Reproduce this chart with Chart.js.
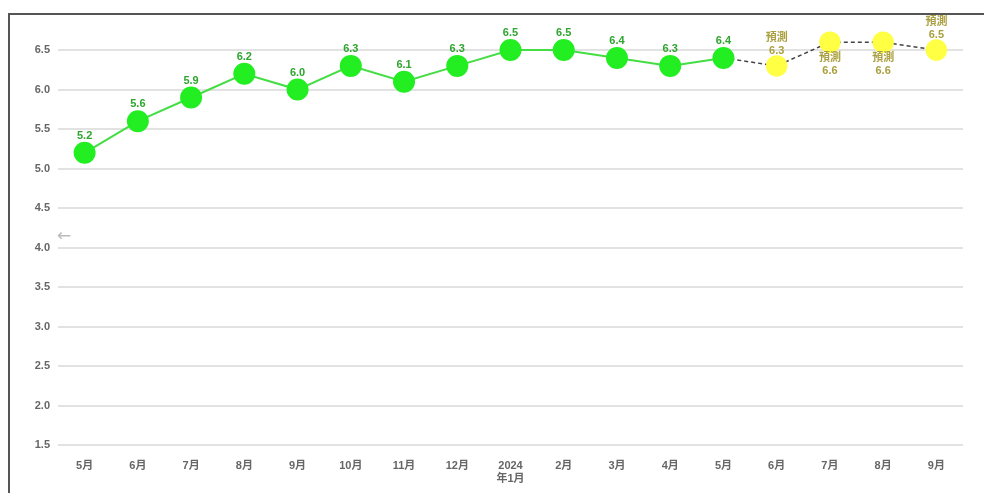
<!DOCTYPE html>
<html>
<head>
<meta charset="utf-8">
<script src="https://cdn.jsdelivr.net/npm/chart.js@4/dist/chart.umd.min.js"></script>
<style>
    html, body { margin: 0; padding: 0; background: #fff; }
    #wrap { position: relative; width: 984px; height: 493px; overflow: hidden; }
    #chart { position: absolute; left: 0; top: -4px; }
    .mask-top { position: absolute; left: 0; top: 0; width: 984px; height: 14px; background: #fff; }
    .mask-left { position: absolute; left: 0; top: 0; width: 8px; height: 493px; background: #fff; }
    .frame { position: absolute; left: 8px; top: 13px; width: 980px; height: 490px;
        border-left: 2px solid #555; border-top: 2px solid #555; }
    .arrow { position: absolute; left: 57px; top: 225px; color: #bbb; font-size: 17px;
        font-family: "DejaVu Sans", sans-serif; }
</style>
</head>
<body>
<div id="wrap">
    <canvas id="chart" width="984" height="497"></canvas>
    <div class="mask-top"></div>
    <div class="mask-left"></div>
    <div class="frame"></div>
    <div class="arrow">←</div>
</div>
<script>
// categories (2023/5 .. 2024/9)
const months = ['5月', '6月', '7月', '8月', '9月', '10月', '11月', '12月', ['2024', '年1月'],
    '2月', '3月', '4月', '5月', '6月', '7月', '8月', '9月'];
const actual = [5.2, 5.6, 5.9, 6.2, 6.0, 6.3, 6.1, 6.3, 6.5, 6.5, 6.4, 6.3, 6.4,
    null, null, null, null];
const forecast = [null, null, null, null, null, null, null, null, null, null, null, null, 6.4,
    6.3, 6.6, 6.6, 6.5];
// which forecast labels sit under the point
const forecastBelow = [false, false, false, false, false, false, false, false, false, false, false, false, false,
    false, true, true, false];
const yMin = 1.5, yMax = 7.0, yStep = 0.5;

const FONT = '"Liberation Sans", "Noto Sans CJK TC", sans-serif';

// value labels
const labelPlugin = {
    id: 'valueLabels',
    afterDatasetsDraw(chart) {
        const ctx = chart.ctx;
        ctx.save();
        ctx.textAlign = 'center';
        ctx.textBaseline = 'middle';
        ctx.font = 'bold 11px ' + FONT;

        chart.getDatasetMeta(0).data.forEach((pt, i) => {
            if (actual[i] == null) return;
            ctx.fillStyle = '#2ea52e';
            ctx.fillText(actual[i].toFixed(1), pt.x, pt.y - 17);
        });

        chart.getDatasetMeta(1).data.forEach((pt, i) => {
            if (forecast[i] == null || i <= 12) return;
            ctx.fillStyle = '#aaa040';
            if (forecastBelow[i]) {
                ctx.fillText('預測', pt.x, pt.y + 16);
                ctx.fillText(forecast[i].toFixed(1), pt.x, pt.y + 29);
            } else {
                ctx.fillText('預測', pt.x, pt.y - 28);
                ctx.fillText(forecast[i].toFixed(1), pt.x, pt.y - 15);
            }
        });
        ctx.restore();
    }
};

window.onload = function () {
    const ctx = document.getElementById('chart').getContext('2d');
    new Chart(ctx, {
        type: 'line',
        data: {
            labels: months,
            datasets: [{
                label: '実績',
                data: actual,
                borderColor: '#44dd44',
                borderWidth: 2,
                backgroundColor: '#22ee22',
                pointBackgroundColor: '#22ee22',
                pointBorderColor: '#22ee22',
                pointRadius: 10,
                tension: 0
            }, {
                label: '預測',
                data: forecast,
                borderColor: '#444',
                borderWidth: 1.5,
                borderDash: [4, 3],
                pointBackgroundColor: '#ffff44',
                pointBorderColor: '#ffff44',
                pointRadius: forecast.map((v, i) => i <= 12 ? 0 : 10),
                tension: 0
            }]
        },
        plugins: [labelPlugin],
        options: {
            responsive: false,
            animation: false,
            events: [],
            layout: {padding: {top: 5, right: 21, bottom: 6, left: 0}},
            plugins: {legend: {display: false}, tooltip: {enabled: false}},
            scales: {
                x: {
                    offset: true,
                    grid: {display: false},
                    border: {display: false},
                    ticks: {color: '#666', font: {size: 11, weight: 'bold', family: FONT},
                        maxRotation: 0, autoSkip: false, padding: 6},
                    afterFit(scale) { scale.height = 42; }
                },
                y: {
                    min: yMin, max: yMax,
                    grid: {color: '#e2e2e2', lineWidth: 2, drawTicks: false},
                    border: {display: false},
                    ticks: {stepSize: yStep, color: '#666', padding: 8,
                        font: {size: 11, weight: 'bold', family: FONT},
                        callback: v => v.toFixed(1)},
                    afterFit(scale) { scale.width = 58; }
                }
            }
        }
    });
};
</script>
</body>
</html>
